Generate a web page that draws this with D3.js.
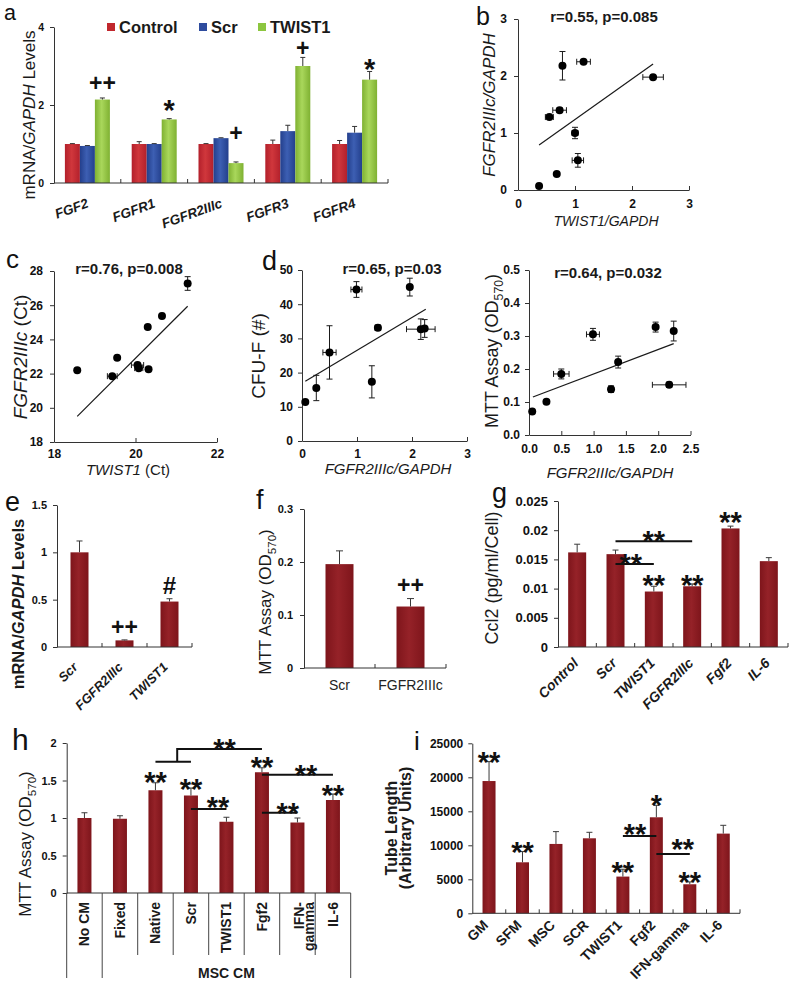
<!DOCTYPE html>
<html><head><meta charset="utf-8">
<script src="https://cdn.jsdelivr.net/npm/d3@7"></script>
<style>
body{margin:0;background:#fff;}
svg{display:block;}
</style></head><body>
<svg id="fig" width="790" height="989"></svg>
<script>
// ================= DATA =================
// Panel a
const aCategories = ["FGF2","FGFR1","FGFR2IIIc","FGFR3","FGFR4"];
const aSeries = ["Control","Scr","TWIST1"];
const aControl = [1.00,1.00,1.00,1.00,1.00];
const aControlErr = [0.01,0.06,0.01,0.10,0.09];
const aScr = [0.95,1.00,1.15,1.33,1.29];
const aScrErr = [0.01,0.01,0.01,0.15,0.16];
const aTwist = [2.14,1.63,0.51,3.00,2.65];
const aTwistErr = [0.04,0.02,0.03,0.22,0.21];
const aMarks = ["++","*","+","+","*"];
const aMarkLevels = [2.56,2.05,1.28,3.47,3.11];
const aTicks = [0,2,4];

// Panel b
const bX = [0.37,0.68,1.05,1.00,0.55,0.73,0.78,1.15,2.37];
const bY = [0.07,0.28,0.52,1.00,1.28,1.40,2.18,2.25,1.98];
const bXErr = [0,0,0.10,0.05,0.07,0.12,0.03,0.12,0.18];
const bYErr = [0,0,0.12,0.10,0,0.04,0.25,0,0.03];
const bFitX = [0.37,2.37];
const bFitY = [0.79,2.21];
const bXTicks = [0,1,2,3];
const bYTicks = [0,1,2,3];

// Panel c
const cX = [18.57,19.43,19.55,20.05,20.08,20.32,20.30,20.65,21.28];
const cY = [22.20,21.85,22.93,22.50,22.32,22.25,24.72,25.37,27.27];
const cXErr = [0,0.12,0,0.15,0.10,0,0,0,0];
const cYErr = [0,0,0,0.05,0.05,0,0,0.15,0.40];
const cFitX = [18.57,21.28];
const cFitY = [19.5,25.94];
const cXTicks = [18,20,22];
const cYTicks = [18,20,22,24,26,28];

// Panel d (left: CFU-F)
const dX = [0.06,0.26,0.50,0.99,1.27,1.38,1.96,2.16,2.23];
const dY = [11.4,15.5,25.9,44.3,17.3,33.1,45.0,32.7,32.9];
const dXErr = [0.03,0,0.12,0.10,0,0.05,0,0.26,0];
const dYErr = [0,3.7,7.8,2.3,4.7,0.8,2.6,3.0,2.6];
const dFitX = [0.06,2.25];
const dFitY = [17.5,38.5];
const dXTicks = [0,1,2,3];
const dYTicks = [0,10,20,30,40,50];

// Panel d (right: MTT)
const drX = [0.05,0.27,0.50,0.99,1.27,1.38,1.96,2.17,2.24];
const drY = [0.071,0.101,0.185,0.305,0.139,0.221,0.327,0.152,0.315];
const drXErr = [0.03,0,0.12,0.10,0,0,0,0.26,0];
const drYErr = [0,0.006,0.015,0.018,0.010,0.018,0.015,0.008,0.030];
const drFitX = [0.06,2.24];
const drFitY = [0.115,0.277];
const drXTicks = [0,0.5,1,1.5,2,2.5];
const drYTicks = [0,0.1,0.2,0.3,0.4,0.5];

// Panel e
const eCategories = ["Scr","FGFR2IIIc","TWIST1"];
const eValues = [1.00,0.07,0.48];
const eErr = [0.12,0.005,0.03];
const eMarks = ["","++","#"];
const eMarkLevels = [0,0.217,0.656];
const eTicks = [0,0.5,1,1.5];

// Panel f
const fCategories = ["Scr","FGFR2IIIc"];
const fValues = [0.196,0.116];
const fErr = [0.025,0.015];
const fMarks = ["","++"];
const fMarkLevels = [0,0.157];
const fTicks = [0,0.1,0.2,0.3];

// Panel g
const gCategories = ["Control","Scr","TWIST1","FGFR2IIIc","Fgf2","IL-6"];
const gValues = [0.0162,0.0159,0.0095,0.0104,0.0203,0.0147];
const gErr = [0.0014,0.0007,0.0009,0.0004,0.0004,0.0006];
const gMarks = ["","","**","**","**",""];
const gMarkLevels = [0,0,0.0119,0.0119,0.0226,0];
const gLineFrom = ["Scr","Scr"];
const gLineTo = ["FGFR2IIIc","TWIST1"];
const gLineLevel = [0.0181,0.0142];
const gLineMarkLevel = [0.0195,0.0154];
const gLineMarkAt = [0.5,0.4];
const gTicks = [0,0.005,0.01,0.015,0.02,0.025];

// Panel h
const hCategories = ["No CM","Fixed","Native","Scr","TWIST1","Fgf2","IFN-gamma","IL-6"];
const hValues = [1.00,0.99,1.37,1.30,0.95,1.61,0.94,1.24];
const hErr = [0.07,0.04,0.10,0.10,0.06,0.06,0.06,0.08];
const hMarks = ["","","**","**","","**","","**"];
const hMarkLevels = [0,0,1.576,1.486,0,1.776,0,1.40];
const hLineFrom = ["Scr","Fgf2","Fgf2"];
const hLineTo = ["TWIST1","IL-6","IFN-gamma"];
const hLineLevel = [1.12,1.576,1.07];
const hLineMarkLevel = [1.24,1.67,1.17];
const hLineMarkAt = [0.76,0.62,0.73];
const hBracketLow = ["Native","Scr"];
const hBracketHigh = "Fgf2";
const hBracketLevels = [1.75,1.92];
const hBracketMarkLevel = 2.02;
const hGroupLabel = "MSC CM";
const hTicks = [0,0.5,1,1.5,2];

// Panel i
const iCategories = ["GM","SFM","MSC","SCR","TWIST1","Fgf2","IFN-gamma","IL-6"];
const iValues = [19450,7500,10200,11030,5400,14120,4270,11720];
const iErr = [2850,1570,1810,880,1080,1760,340,1220];
const iMarks = ["**","**","","","**","*","**",""];
const iMarkLevels = [23280,10040,0,0,7100,16960,5630,0];
const iLineFrom = ["TWIST1","Fgf2"];
const iLineTo = ["Fgf2","IFN-gamma"];
const iLineLevel = [11370,8720];
const iLineMarkLevel = [12735,10500];
const iLineMarkAt = [0.36,0.79];
const iTicks = [0,5000,10000,15000,20000,25000];

// ================= DRAWING =================
const svg = d3.select("#fig");
const F = '"Liberation Sans", Arial, Helvetica, sans-serif';
const INK = "#1a1a1a";

const defs = svg.append("defs");
function grad(id, edge, mid) {
  const lg = defs.append("linearGradient").attr("id", id).attr("x1","0").attr("x2","1").attr("y1","0").attr("y2","0");
  lg.append("stop").attr("offset","0%").attr("stop-color", edge);
  lg.append("stop").attr("offset","45%").attr("stop-color", mid);
  lg.append("stop").attr("offset","100%").attr("stop-color", edge);
}
grad("gRed", "#b3202b", "#d0373c");
grad("gBlue", "#233f8c", "#3d5fb3");
grad("gGreen", "#7fb132", "#a9d75b");
grad("gMaroon", "#7e151b", "#952228");

function txt(x, y, s, o = {}) {
  const t = svg.append("text").attr("x", x).attr("y", y)
    .attr("font-family", F).attr("font-size", o.size || 12)
    .attr("font-weight", o.weight || "normal").attr("font-style", o.style || "normal")
    .attr("text-anchor", o.anchor || "start").attr("fill", o.fill || INK);
  if (o.rotate) t.attr("transform", `rotate(${o.rotate},${x},${y})`);
  t.text(s);
  return t;
}
// parts: [text, kind] kind: "", "i", "sub"
function rich(x, y, parts, o = {}) {
  const size = o.size || 12;
  const t = svg.append("text").attr("x", x).attr("y", y)
    .attr("font-family", F).attr("font-size", size)
    .attr("font-weight", o.weight || "normal").attr("font-style", o.style || "normal")
    .attr("text-anchor", o.anchor || "middle").attr("fill", INK);
  if (o.rotate) t.attr("transform", `rotate(${o.rotate},${x},${y})`);
  let shift = 0;
  parts.forEach(p => {
    const ts = t.append("tspan").text(p[0]);
    if (p[1] === "i") ts.attr("font-style", "italic");
    if (p[1] === "sub") { ts.attr("font-size", size * 0.68).attr("dy", size * 0.28); shift = size * 0.28; }
    else if (shift) { ts.attr("dy", -shift); shift = 0; }
  });
  return t;
}
function mark(s, x, yc) {
  let size = 23, off = 0.35;
  if (s.includes("*")) { size = 29; off = 0.6; }
  if (s.includes("#")) { size = 24; off = 0.36; }
  txt(x, yc + off * size, s, { size, weight: "bold", anchor: "middle", fill: "#111" });
}
function panelLetter(s, x, y, size) { txt(x, y, s, { size: size || 26, fill: "#111" }); }

function styleAxis(g, fs, weight) {
  g.select(".domain").attr("stroke", "#333").attr("stroke-width", 1);
  g.selectAll(".tick line").attr("stroke", "#333");
  g.selectAll(".tick text").attr("font-family", F).attr("font-size", fs)
    .attr("font-weight", weight || "bold").attr("fill", "#111");
}
function errV(g, x, y1, y2, cap, color) {
  g.append("line").attr("x1", x).attr("x2", x).attr("y1", y1).attr("y2", y2).attr("stroke", color || "#222").attr("stroke-width", 1);
  g.append("line").attr("x1", x - cap).attr("x2", x + cap).attr("y1", y2).attr("y2", y2).attr("stroke", color || "#222").attr("stroke-width", 1);
}

// ---------- Generic scatter ----------
function scatter(p) {
  const x = d3.scaleLinear().domain(p.xd).range(p.xr);
  const y = d3.scaleLinear().domain(p.yd).range(p.yr);
  const g = svg.append("g");
  const ya = g.append("g").attr("transform", `translate(${p.xr[0]},0)`)
    .call(d3.axisLeft(y).tickValues(p.yt).tickFormat(p.yf).tickSize(4).tickSizeOuter(0).tickPadding(p.ypad));
  styleAxis(ya, p.fs || 12);
  const xa = g.append("g").attr("transform", `translate(0,${p.yr[0]})`)
    .call(d3.axisBottom(x).tickValues(p.xt).tickFormat(p.xf).tickSize(-4).tickSizeOuter(0).tickPadding(p.xpad));
  styleAxis(xa, p.fs || 12);
  g.append("line").attr("x1", x(p.fx[0])).attr("y1", y(p.fy[0])).attr("x2", x(p.fx[1])).attr("y2", y(p.fy[1]))
    .attr("stroke", INK).attr("stroke-width", 1.2);
  const eg = g.append("g");
  p.xs.forEach((xv, i) => {
    const cx = x(xv), cy = y(p.ys[i]);
    if (p.ye[i] > 0) {
      const y1 = y(p.ys[i] + p.ye[i]), y2 = y(p.ys[i] - p.ye[i]);
      eg.append("line").attr("x1", cx).attr("x2", cx).attr("y1", y1).attr("y2", y2).attr("stroke", INK);
      [y1, y2].forEach(yy => eg.append("line").attr("x1", cx - 3).attr("x2", cx + 3).attr("y1", yy).attr("y2", yy).attr("stroke", INK));
    }
    if (p.xe[i] > 0) {
      const x1 = x(xv - p.xe[i]), x2 = x(xv + p.xe[i]);
      eg.append("line").attr("x1", x1).attr("x2", x2).attr("y1", cy).attr("y2", cy).attr("stroke", INK);
      [x1, x2].forEach(xx => eg.append("line").attr("x1", xx).attr("x2", xx).attr("y1", cy - 3).attr("y2", cy + 3).attr("stroke", INK));
    }
  });
  g.append("g").selectAll("circle").data(p.xs).join("circle")
    .attr("cx", d => x(d)).attr("cy", (d, i) => y(p.ys[i])).attr("r", 4).attr("fill", "#000");
  txt(p.title[1], p.title[2], p.title[0], { size: 15, weight: "bold", anchor: "middle" });
}

// ---------- Generic single-series bar chart ----------
function bars(p) {
  const x = d3.scaleBand().domain(p.cats).range(p.xr);
  const y = d3.scaleLinear().domain(p.yd).range(p.yr);
  const g = svg.append("g");
  const c = d => x(d) + x.bandwidth() / 2;
  g.append("g").selectAll("rect").data(p.cats).join("rect")
    .attr("x", d => c(d) - p.bw / 2).attr("width", p.bw)
    .attr("y", (d, i) => y(p.vals[i])).attr("height", (d, i) => y(0) - y(p.vals[i]))
    .attr("fill", "url(#gMaroon)");
  p.cats.forEach((d, i) => errV(g, c(d), y(p.vals[i]), y(p.vals[i] + p.errs[i]), p.cap || 3, "#3a3a3a"));
  const ya = g.append("g").attr("transform", `translate(${p.xr[0]},0)`)
    .call(d3.axisLeft(y).tickValues(p.ticks).tickFormat(p.tf).tickSize(4).tickSizeOuter(0).tickPadding(p.ypad || 6));
  styleAxis(ya, p.fs || 11);
  g.append("line").attr("x1", p.xr[0]).attr("x2", p.xr[1]).attr("y1", y(0)).attr("y2", y(0)).attr("stroke", "#333");
  if (!p.noTicks) {
    p.cats.forEach((d, i) => {
      const bx = x(d) + x.bandwidth();
      g.append("line").attr("x1", bx).attr("x2", bx).attr("y1", y(0)).attr("y2", y(0) - 4).attr("stroke", "#333");
    });
  }
  p.marks.forEach((m, i) => { if (m) mark(m, c(p.cats[i]), y(p.markLevels[i])); });
  if (p.lineFrom) {
    p.lineFrom.forEach((f, i) => {
      const x1 = c(f), x2 = c(p.lineTo[i]);
      g.append("line").attr("x1", x1).attr("x2", x2)
        .attr("y1", y(p.lineLevel[i])).attr("y2", y(p.lineLevel[i])).attr("stroke", "#111").attr("stroke-width", 2);
      const at = p.lineMarkAt ? p.lineMarkAt[i] : 0.5;
      mark("**", x1 + (x2 - x1) * at, y(p.lineMarkLevel[i]));
    });
  }
  return { x, y, c, g };
}

// ================= PANEL a =================
{
  const x = d3.scaleBand().domain(aCategories).range([54, 388]);
  const xs = d3.scaleBand().domain(aSeries).range([-22.5, 22.5]);
  const y = d3.scaleLinear().domain([0, 4]).range([183, 27]);
  const vals = [aControl, aScr, aTwist], errs = [aControlErr, aScrErr, aTwistErr];
  const fills = ["url(#gRed)", "url(#gBlue)", "url(#gGreen)"];
  const solid = ["#c1272d", "#2e4c9e", "#8cc63f"];
  const g = svg.append("g");
  aSeries.forEach((s, si) => {
    g.append("g").selectAll("rect").data(aCategories).join("rect")
      .attr("x", d => x(d) + x.bandwidth() / 2 + xs(s)).attr("width", xs.bandwidth())
      .attr("y", (d, i) => y(vals[si][i])).attr("height", (d, i) => y(0) - y(vals[si][i]))
      .attr("fill", fills[si]);
    aCategories.forEach((d, i) => {
      const cx = x(d) + x.bandwidth() / 2 + xs(s) + xs.bandwidth() / 2;
      errV(g, cx, y(vals[si][i]), y(vals[si][i] + errs[si][i]), 2.5, "#333");
    });
  });
  const ya = g.append("g").attr("transform", "translate(54,0)")
    .call(d3.axisLeft(y).tickValues(aTicks).tickFormat(d3.format("d")).tickSize(4).tickSizeOuter(0).tickPadding(6));
  styleAxis(ya, 10.5);
  g.append("line").attr("x1", 54).attr("x2", 388).attr("y1", y(0)).attr("y2", y(0)).attr("stroke", "#333");
  aCategories.forEach(d => {
    const bx = x(d) + x.bandwidth();
    g.append("line").attr("x1", bx).attr("x2", bx).attr("y1", y(0) - 4).attr("y2", y(0)).attr("stroke", "#333");
  });
  aCategories.forEach((d, i) => {
    const tx = x(d) + x.bandwidth() / 2 + xs("TWIST1") + xs.bandwidth() / 2;
    mark(aMarks[i], tx, y(aMarkLevels[i]));
    txt(x(d) + x.bandwidth() / 2 + 2, 207, d, { size: 13.5, weight: "bold", style: "italic", anchor: "end", rotate: -20 });
  });
  // legend
  const lx = [107, 199, 258];
  aSeries.forEach((s, si) => {
    g.append("rect").attr("x", lx[si]).attr("y", 23).attr("width", 8).attr("height", 8).attr("fill", solid[si]);
    txt(lx[si] + 12, 32.5, s, { size: 16.5, weight: "bold" });
  });
  rich(35, 115, [["mRNA/"], ["GAPDH", "i"], [" Levels"]], { size: 17, rotate: -90 });
  panelLetter("a", 4, 19.5, 21.5);
}

// ================= PANEL b =================
scatter({ xs: bX, ys: bY, xe: bXErr, ye: bYErr, fx: bFitX, fy: bFitY,
  xd: [0, 3], xr: [518, 689], yd: [0, 3], yr: [190, 19], xt: bXTicks, yt: bYTicks,
  xf: d3.format("d"), yf: d3.format("d"), xpad: 9.5, ypad: 7,
  title: ["r=0.55, p=0.085", 604, 22] });
txt(495, 105, "FGFR2IIIc/GAPDH", { size: 17, style: "italic", anchor: "middle", rotate: -90 });
txt(606, 226, "TWIST1/GAPDH", { size: 14, style: "italic", anchor: "middle" });
panelLetter("b", 476, 25, 25);

// ================= PANEL c =================
scatter({ xs: cX, ys: cY, xe: cXErr, ye: cYErr, fx: cFitX, fy: cFitY,
  xd: [18, 22], xr: [54, 217], yd: [18, 28], yr: [442, 271], xt: cXTicks, yt: cYTicks,
  xf: d3.format("d"), yf: d3.format("d"), xpad: 7.5, ypad: 7,
  title: ["r=0.76, p=0.008", 129, 274] });
rich(27, 357, [["FGFR2IIIc", "i"], [" (Ct)"]], { size: 19, rotate: -90 });
rich(128, 475, [["TWIST1", "i"], [" (Ct)"]], { size: 15 });
panelLetter("c", 6, 268, 26);

// ================= PANEL d =================
scatter({ xs: dX, ys: dY, xe: dXErr, ye: dYErr, fx: dFitX, fy: dFitY,
  xd: [0, 3], xr: [302, 467], yd: [0, 50], yr: [441, 270], xt: dXTicks, yt: dYTicks,
  xf: d3.format("d"), yf: d3.format("d"), xpad: 8.5, ypad: 5,
  title: ["r=0.65, p=0.03", 392, 274] });
txt(265, 356, "CFU-F (#)", { size: 19, anchor: "middle", rotate: -90 });
txt(388, 474, "FGFR2IIIc/GAPDH", { size: 15, style: "italic", anchor: "middle" });
panelLetter("d", 262, 270, 27);

scatter({ xs: drX, ys: drY, xe: drXErr, ye: drYErr, fx: drFitX, fy: drFitY,
  xd: [0, 2.5], xr: [529, 690.5], yd: [0, 0.5], yr: [435, 270], xt: drXTicks, yt: drYTicks,
  xf: d3.format(".1f"), yf: d3.format(".1f"), xpad: 9.5, ypad: 5,
  title: ["r=0.64, p=0.032", 608, 278] });
rich(498, 351, [["MTT Assay (OD"], ["570", "sub"], [")"]], { size: 18, rotate: -90 });
txt(610, 478, "FGFR2IIIc/GAPDH", { size: 15, style: "italic", anchor: "middle" });

// ================= PANEL e =================
{
  const r = bars({ cats: eCategories, vals: eValues, errs: eErr, marks: eMarks, markLevels: eMarkLevels,
    xr: [57, 192], yd: [0, 1.5], yr: [647, 505], bw: 18, ticks: eTicks, tf: d => d3.format("")(d), fs: 11, ypad: 6 });
  eCategories.forEach(d => txt(r.c(d) - 1, 668, d, { size: 13, weight: "bold", style: "italic", anchor: "end", rotate: -45 }));
  rich(24, 604, [["mRNA/"], ["GAPDH", "i"], [" Levels"]], { size: 16.5, weight: "bold", rotate: -90 });
  panelLetter("e", 5, 511, 27);
}

// ================= PANEL f =================
{
  const r = bars({ cats: fCategories, vals: fValues, errs: fErr, marks: fMarks, markLevels: fMarkLevels,
    xr: [304, 446], yd: [0, 0.3], yr: [668, 509], bw: 28, ticks: fTicks, tf: d => d3.format("")(d), fs: 11, ypad: 7, cap: 3.5 });
  fCategories.forEach(d => txt(r.c(d), 690, d, { size: 14, anchor: "middle", fill: "#222" }));
  rich(271, 602, [["MTT Assay (OD"], ["570", "sub"], [")"]], { size: 17, rotate: -90 });
  panelLetter("f", 256, 509, 27);
}

// ================= PANEL g =================
{
  const r = bars({ cats: gCategories, vals: gValues, errs: gErr, marks: gMarks, markLevels: gMarkLevels,
    xr: [558, 788], yd: [0, 0.025], yr: [647, 501], bw: 18, ticks: gTicks, tf: d => d3.format("")(d), fs: 13, ypad: 6,
    lineFrom: gLineFrom, lineTo: gLineTo, lineLevel: gLineLevel, lineMarkLevel: gLineMarkLevel, lineMarkAt: gLineMarkAt });
  gCategories.forEach(d => txt(r.c(d) + 2, 664, d, { size: 14, weight: "bold", style: "italic", anchor: "end", rotate: -45 }));
  txt(498, 578, "Ccl2 (pg/ml/Cell)", { size: 18, anchor: "middle", rotate: -90 });
  panelLetter("g", 492, 502, 27);
}

// ================= PANEL h =================
{
  const r = bars({ cats: hCategories, vals: hValues, errs: hErr, marks: hMarks, markLevels: hMarkLevels,
    xr: [66.7, 350.7], yd: [0, 2], yr: [893, 743], bw: 14, ticks: hTicks, tf: d => d3.format("")(d), fs: 11, ypad: 6,
    noTicks: true, lineFrom: hLineFrom, lineTo: hLineTo, lineLevel: hLineLevel, lineMarkLevel: hLineMarkLevel, lineMarkAt: hLineMarkAt });
  const { x, y, c, g } = r;
  // bracket
  const lowY = y(hBracketLevels[0]), highY = y(hBracketLevels[1]);
  const lx1 = c(hBracketLow[0]), lx2 = c(hBracketLow[1]), mid = (lx1 + lx2) / 2 + 4;
  g.append("line").attr("x1", lx1).attr("x2", lx2).attr("y1", lowY).attr("y2", lowY).attr("stroke", "#111").attr("stroke-width", 2);
  g.append("path").attr("d", `M${mid},${lowY}V${highY}H${c(hBracketHigh)}`).attr("fill", "none").attr("stroke", "#111").attr("stroke-width", 2);
  mark("**", (mid + c(hBracketHigh)) / 2 + 5, y(hBracketMarkLevel));
  // divider lines
  const bw = x.bandwidth();
  for (let k = 0; k <= hCategories.length; k++) {
    const bx = 66.7 + k * bw;
    const long = (k === 0 || k === 1 || k === hCategories.length);
    g.append("line").attr("x1", bx).attr("x2", bx).attr("y1", y(0)).attr("y2", long ? 978 : 955).attr("stroke", "#444");
  }
  hCategories.forEach(d => {
    if (d === "IFN-gamma") {
      txt(c(d) + 7, 902, "IFN-", { size: 14, weight: "bold", anchor: "end", rotate: -90 });
      txt(c(d) + 17, 902, "gamma", { size: 14, weight: "bold", anchor: "end", rotate: -90 });
    } else {
      txt(c(d) + 5, 902, d, { size: 14, weight: "bold", anchor: "end", rotate: -90 });
    }
  });
  txt((66.7 + bw + 350.7) / 2, 978, hGroupLabel, { size: 14, weight: "bold", anchor: "middle" });
  rich(31, 844, [["MTT Assay (OD"], ["570", "sub"], [")"]], { size: 17, rotate: -90 });
  panelLetter("h", 12, 750, 30);
}

// ================= PANEL i =================
{
  const r = bars({ cats: iCategories, vals: iValues, errs: iErr, marks: iMarks, markLevels: iMarkLevels,
    xr: [472.3, 740], yd: [0, 25000], yr: [913.3, 743.3], bw: 13, ticks: iTicks, tf: d => d3.format("")(d), fs: 12, ypad: 5,
    lineFrom: iLineFrom, lineTo: iLineTo, lineLevel: iLineLevel, lineMarkLevel: iLineMarkLevel, lineMarkAt: iLineMarkAt });
  iCategories.forEach(d => txt(r.c(d), 926, d, { size: 14, weight: "bold", anchor: "end", rotate: -45 }));
  txt(397, 828, "Tube Length", { size: 16, weight: "bold", anchor: "middle", rotate: -90 });
  txt(411, 828, "(Arbitrary Units)", { size: 16, weight: "bold", anchor: "middle", rotate: -90 });
  panelLetter("i", 414, 750, 26);
}
</script>
</body></html>
